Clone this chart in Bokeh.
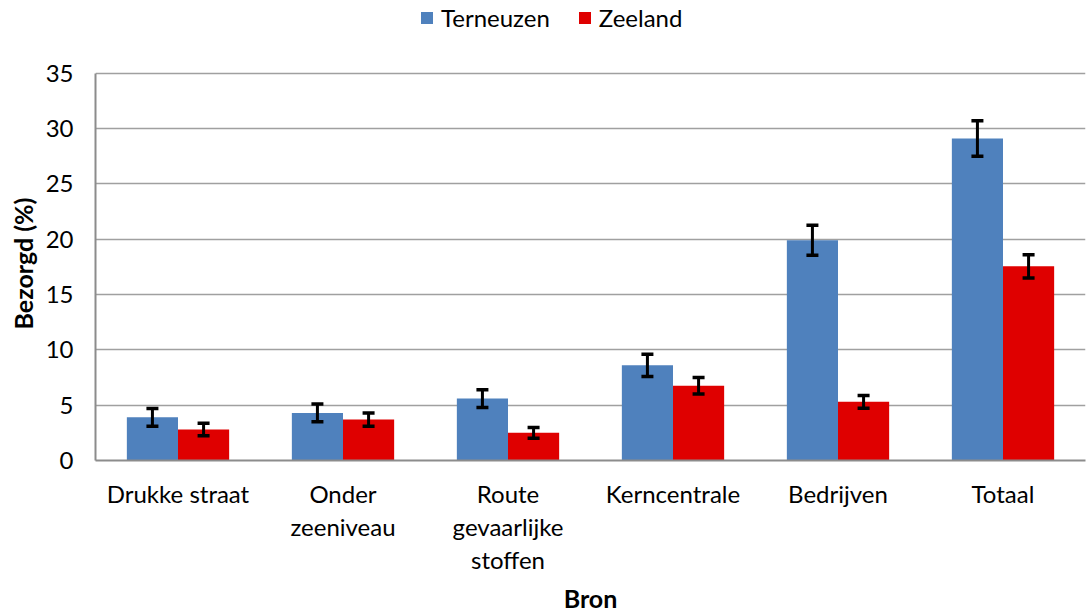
from bokeh.plotting import figure
from bokeh.models import (ColumnDataSource, FactorRange, Range1d, Whisker, TeeHead,
                          Legend, LegendItem, FixedTicker, Title)
from bokeh.transform import dodge
from bokeh.embed import file_html
from bokeh.resources import INLINE

categories = ["Drukke straat", "Onder\nzeeniveau", "Route\ngevaarlijke\nstoffen",
              "Kerncentrale", "Bedrijven", "Totaal"]
series = ["Terneuzen", "Zeeland"]
terneuzen = [3.9, 4.3, 5.6, 8.6, 19.9, 29.1]
terneuzen_err = [0.8, 0.8, 0.8, 1.0, 1.35, 1.6]
zeeland = [2.8, 3.7, 2.5, 6.75, 5.3, 17.55]
zeeland_err = [0.57, 0.6, 0.48, 0.75, 0.58, 1.05]
y_ticks = [0, 5, 10, 15, 20, 25, 30, 35]
y_max = 35

BLUE = "#4F81BD"
RED = "#DF0000"
FONT = "Lato"
GRID = "#A0A0A0"

src = ColumnDataSource(dict(
    cat=categories,
    t=terneuzen, z=zeeland,
    t_lo=[v - e for v, e in zip(terneuzen, terneuzen_err)],
    t_hi=[v + e for v, e in zip(terneuzen, terneuzen_err)],
    z_lo=[v - e for v, e in zip(zeeland, zeeland_err)],
    z_hi=[v + e for v, e in zip(zeeland, zeeland_err)],
))

# frame extends to the top of the figure to host the legend; the axis itself stops at 35
frame_h = 462
plot_h = 389
p = figure(x_range=FactorRange(factors=categories),
           y_range=Range1d(0, y_max * frame_h / plot_h),
           width=1087, height=616, output_backend="svg", toolbar_location=None,
           min_border_left=95, min_border_right=2, min_border_top=0, min_border_bottom=154)

off = 0.155
bw = 0.31
rT = p.vbar(x=dodge("cat", -off, range=p.x_range), top="t", width=bw, source=src,
            fill_color=BLUE, line_color=None)
rZ = p.vbar(x=dodge("cat", off, range=p.x_range), top="z", width=bw, source=src,
            fill_color=RED, line_color=None)

for key, o in (("t", -off), ("z", off)):
    w = Whisker(base=dodge("cat", o, range=p.x_range), upper=key + "_hi", lower=key + "_lo",
                source=src, line_color="black", line_width=3, level="overlay",
                upper_head=TeeHead(size=12, line_width=3.5, line_color="black"),
                lower_head=TeeHead(size=12, line_width=3.5, line_color="black"))
    p.add_layout(w)

legend = Legend(items=[LegendItem(label=series[0], renderers=[rT]),
                       LegendItem(label=series[1], renderers=[rZ])],
                orientation="horizontal", location=(324, 428),
                glyph_width=15, glyph_height=15, label_standoff=7, spacing=27,
                padding=0, margin=0, border_line_color=None, background_fill_alpha=0,
                label_text_font=FONT, label_text_font_size="24px", label_text_color="black")
p.add_layout(legend)

p.outline_line_color = None
p.xgrid.grid_line_color = None
p.ygrid.grid_line_color = GRID
p.ygrid.grid_line_width = 1.5
p.yaxis.ticker = FixedTicker(ticks=y_ticks)
p.yaxis.bounds = (0, y_max)

# y-axis title, centred on the 0-35 part of the axis
ytitle = Title(text="Bezorgd (%)", align="left", offset=131, standoff=10,
               text_font=FONT, text_font_size="25px", text_font_style="bold",
               text_color="black")
p.add_layout(ytitle, "left")

p.xaxis.axis_label = "Bron"
for ax in (p.xaxis, p.yaxis):
    ax.axis_line_color = "#8C8C8C"
    ax.axis_line_width = 2
    ax.major_label_text_font = FONT
    ax.major_label_text_font_size = "24px"
    ax.major_label_text_color = "black"
    ax.axis_label_text_font = FONT
    ax.axis_label_text_font_size = "25px"
    ax.axis_label_text_font_style = "bold"
    ax.axis_label_text_color = "black"
    ax.minor_tick_line_color = None

p.yaxis.major_tick_line_color = None
p.yaxis.major_tick_out = 0
p.yaxis.major_tick_in = 0
p.yaxis.major_label_standoff = 22

p.xaxis.major_tick_line_color = None
p.xaxis.major_label_standoff = 12
p.xaxis.major_label_text_line_height = 1.15
p.xaxis.axis_label_standoff = 6
p.xaxis.major_label_orientation = "horizontal"

open("out.html", "w").write(file_html(p, INLINE))
